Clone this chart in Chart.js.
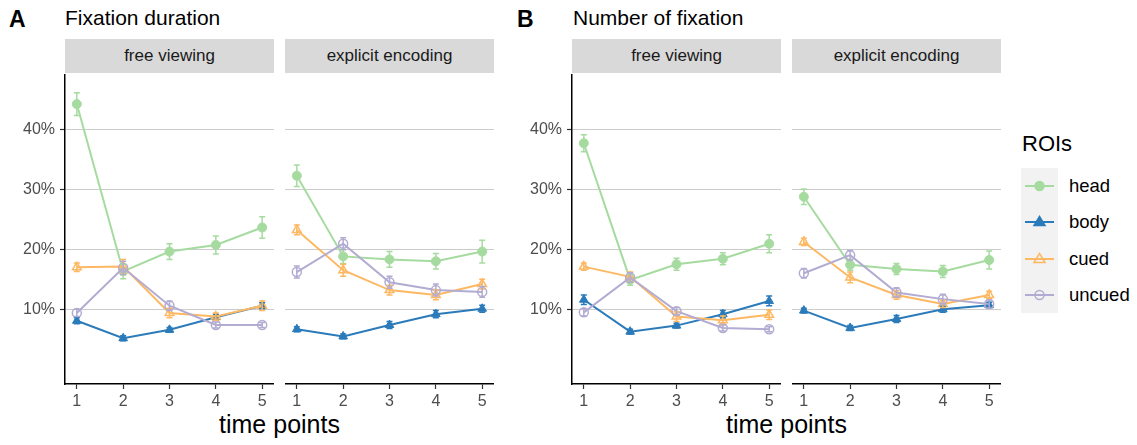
<!DOCTYPE html>
<html>
<head>
<meta charset="utf-8">
<script src="https://cdn.jsdelivr.net/npm/chart.js@4.4.1/dist/chart.umd.min.js"></script>
<style>
  body { margin: 0; width: 1137px; height: 445px; position: relative; overflow: hidden; background: #fff;
         font-family: "Liberation Sans", Arial, Helvetica, sans-serif; }
  .t { position: absolute; white-space: nowrap; color: #000; }
  .strip { position: absolute; top: 39px; height: 34px; width: 209px; background: #d9d9d9; color: #1a1a1a;
           font-size: 17px; line-height: 34px; text-align: center; }
  .panel { position: absolute; top: 74px; }
  #legendKeys { position: absolute; left: 1021px; top: 168px; width: 37px; height: 145px; background: #f2f2f2; }
</style>
</head>
<body>

<div class="t" style="left:9px;top:8px;font-size:23px;line-height:23px;font-weight:bold">A</div>
<div class="t" style="left:65px;top:7px;font-size:21px;line-height:21px">Fixation duration</div>
<div class="t" style="left:517px;top:8px;font-size:23px;line-height:23px;font-weight:bold">B</div>
<div class="t" style="left:573px;top:7px;font-size:21px;line-height:21px">Number of fixation</div>

<div class="t" style="left:65px;width:429px;top:412px;font-size:25px;line-height:25px;text-align:center">time points</div>
<div class="t" style="left:572px;width:429px;top:412px;font-size:25px;line-height:25px;text-align:center">time points</div>

<div class="t" style="left:1022px;top:133px;font-size:22px;line-height:22px">ROIs</div>
<div id="legendKeys"></div>
<div id="legend"></div>

<div id="charts"></div>

<script>
// values, in percent; rows: head, body, cued, uncued
const timePoints = [1, 2, 3, 4, 5];
const rois = ['head', 'body', 'cued', 'uncued'];
const roiColors = ['#a6dba0', '#2b7bba', '#fdb863', '#b2abd2'];
const stripLabels = ['free viewing', 'explicit encoding'];
const yTicks = [10, 20, 30, 40];

const durationFreeMean = [
  [44.2, 16.4, 19.7, 20.8, 23.7],
  [8.2, 5.3, 6.7, 8.8, 10.7],
  [17.1, 17.2, 9.5, 8.9, 10.7],
  [9.5, 17.0, 10.7, 7.5, 7.5]
];
const durationFreeSe = [
  [1.9, 1.2, 1.3, 1.5, 1.8],
  [0.5, 0.4, 0.4, 0.5, 0.5],
  [0.7, 1.2, 0.8, 0.6, 0.8],
  [0.6, 1.1, 0.8, 0.5, 0.4]
];
const durationExplicitMean = [
  [32.3, 18.9, 18.4, 18.1, 19.7],
  [6.8, 5.6, 7.5, 9.3, 10.2],
  [23.3, 16.6, 13.3, 12.5, 14.3],
  [16.3, 21.0, 14.6, 13.3, 13.0]
];
const durationExplicitSe = [
  [1.8, 1.2, 1.3, 1.3, 1.9],
  [0.4, 0.4, 0.6, 0.6, 0.6],
  [0.8, 1.0, 0.8, 0.8, 0.8],
  [1.0, 1.0, 1.0, 1.0, 0.9]
];
const numberFreeMean = [
  [37.7, 15.0, 17.6, 18.5, 21.0],
  [11.7, 6.4, 7.4, 9.3, 11.5],
  [17.2, 15.5, 8.9, 8.3, 9.2],
  [9.6, 15.4, 9.8, 7.0, 6.8]
];
const numberFreeSe = [
  [1.4, 0.9, 1.0, 1.0, 1.5],
  [0.8, 0.4, 0.4, 0.6, 0.8],
  [0.6, 0.8, 0.8, 0.7, 0.8],
  [0.6, 0.8, 0.6, 0.5, 0.4]
];
const numberExplicitMean = [
  [28.8, 17.5, 16.8, 16.4, 18.3],
  [9.9, 7.0, 8.5, 10.1, 10.8],
  [21.3, 15.4, 12.5, 11.0, 12.5],
  [16.1, 19.1, 12.9, 11.8, 11.0]
];
const numberExplicitSe = [
  [1.3, 0.9, 0.9, 1.0, 1.5],
  [0.4, 0.4, 0.6, 0.5, 0.5],
  [0.6, 0.9, 0.7, 0.6, 0.6],
  [0.8, 0.8, 0.8, 0.8, 0.7]
];

const pointStyles = ['circle', 'triangle', 'triangle', 'circle'];
const hollow = [false, false, true, true];

const panels = [
  { left: 65, mean: durationFreeMean, se: durationFreeSe, axis: true, strip: 0 },
  { left: 285, mean: durationExplicitMean, se: durationExplicitSe, axis: false, strip: 1 },
  { left: 572, mean: numberFreeMean, se: numberFreeSe, axis: true, strip: 0 },
  { left: 792, mean: numberExplicitMean, se: numberExplicitSe, axis: false, strip: 1 }
];

const PW = 209, PH = 310, YAX = 64, XAX = 30;
const tickFont = { family: '"Liberation Sans", Arial, sans-serif', size: 16 };

const errorBars = {
  id: 'errorBars',
  afterDatasetsDraw(chart) {
    const { ctx, scales: { x, y } } = chart;
    ctx.save();
    ctx.lineWidth = 1.5;
    chart.data.datasets.forEach(ds => {
      ctx.strokeStyle = ds.borderColor;
      ds.data.forEach(d => {
        const px = x.getPixelForValue(d.x);
        const top = y.getPixelForValue(d.y + d.e);
        const bot = y.getPixelForValue(d.y - d.e);
        ctx.beginPath();
        ctx.moveTo(px, top); ctx.lineTo(px, bot);
        ctx.moveTo(px - 3, top); ctx.lineTo(px + 3, top);
        ctx.moveTo(px - 3, bot); ctx.lineTo(px + 3, bot);
        ctx.stroke();
      });
    });
    ctx.restore();
  }
};

const charts = document.getElementById('charts');

panels.forEach(p => {
  const strip = document.createElement('div');
  strip.className = 'strip';
  strip.style.left = p.left + 'px';
  strip.textContent = stripLabels[p.strip];
  document.body.appendChild(strip);

  const yw = p.axis ? YAX : 0;
  const box = document.createElement('div');
  box.className = 'panel';
  box.style.left = (p.left - yw) + 'px';
  const cv = document.createElement('canvas');
  cv.width = PW + yw;
  cv.height = PH + XAX;
  box.appendChild(cv);
  charts.appendChild(box);

  const datasets = rois.map((name, i) => ({
    label: name,
    data: timePoints.map((t, j) => ({ x: t, y: p.mean[i][j], e: p.se[i][j] })),
    borderColor: roiColors[i],
    borderWidth: 2,
    pointStyle: pointStyles[i],
    pointRadius: pointStyles[i] === 'triangle' ? 5 : 4.5,
    pointBackgroundColor: hollow[i] ? 'rgba(0,0,0,0)' : roiColors[i],
    pointBorderColor: roiColors[i],
    pointBorderWidth: hollow[i] ? 1.5 : 1,
    tension: 0,
    clip: false,
    order: rois.length - i
  }));

  new Chart(cv, {
    type: 'line',
    data: { datasets },
    plugins: [errorBars],
    options: {
      responsive: false,
      animation: false,
      layout: { padding: 0, autoPadding: false },
      plugins: { legend: { display: false }, tooltip: { enabled: false } },
      scales: {
        x: {
          type: 'linear',
          min: 0.745, max: 5.255,
          afterBuildTicks: s => { s.ticks = timePoints.map(v => ({ value: v })); },
          afterFit: s => { s.height = XAX; s.paddingLeft = 0; s.paddingRight = 0; },
          grid: { drawOnChartArea: false, drawTicks: true, tickLength: 5, tickColor: '#333', tickWidth: 1.2 },
          border: { display: true, color: '#000', width: 1.5 },
          ticks: { color: '#4d4d4d', font: tickFont, padding: 3, maxRotation: 0 }
        },
        y: {
          min: -2.3, max: 49.2,
          afterBuildTicks: s => { s.ticks = yTicks.map(v => ({ value: v })); },
          afterFit: s => { s.width = yw; s.paddingTop = 0; s.paddingBottom = 0; },
          grid: { color: '#cccccc', lineWidth: 1, drawTicks: p.axis, tickLength: 5, tickColor: '#333', tickWidth: 1.2 },
          border: { display: p.axis, color: '#000', width: 1.5 },
          ticks: { display: p.axis, color: '#4d4d4d', font: tickFont, padding: 5, callback: v => v + '%' }
        }
      }
    }
  });
});

// legend
const legend = document.getElementById('legend');
const keyH = 36.25;
rois.forEach((name, i) => {
  const cy = 168 + keyH * i + keyH / 2;
  const c = roiColors[i];
  let marker;
  if (pointStyles[i] === 'circle') {
    marker = `<circle cx="18.5" cy="10" r="4.5" fill="${hollow[i] ? 'none' : c}" stroke="${c}" stroke-width="1.5"/>`;
  } else {
    marker = `<polygon points="18.5,4.5 24,13.5 13,13.5" fill="${hollow[i] ? 'none' : c}" stroke="${c}" stroke-width="1.5"/>`;
  }
  const key = document.createElement('div');
  key.className = 't';
  key.style.left = '1021px';
  key.style.top = (cy - 10) + 'px';
  key.innerHTML = `<svg width="37" height="20"><line x1="4" y1="10" x2="33" y2="10" stroke="${c}" stroke-width="2"/>${marker}</svg>`;
  legend.appendChild(key);

  const lab = document.createElement('div');
  lab.className = 't';
  lab.style.left = '1069px';
  lab.style.top = (cy - 10) + 'px';
  lab.style.fontSize = '18.5px';
  lab.style.lineHeight = '20px';
  lab.textContent = name;
  legend.appendChild(lab);
});
</script>
</body>
</html>
